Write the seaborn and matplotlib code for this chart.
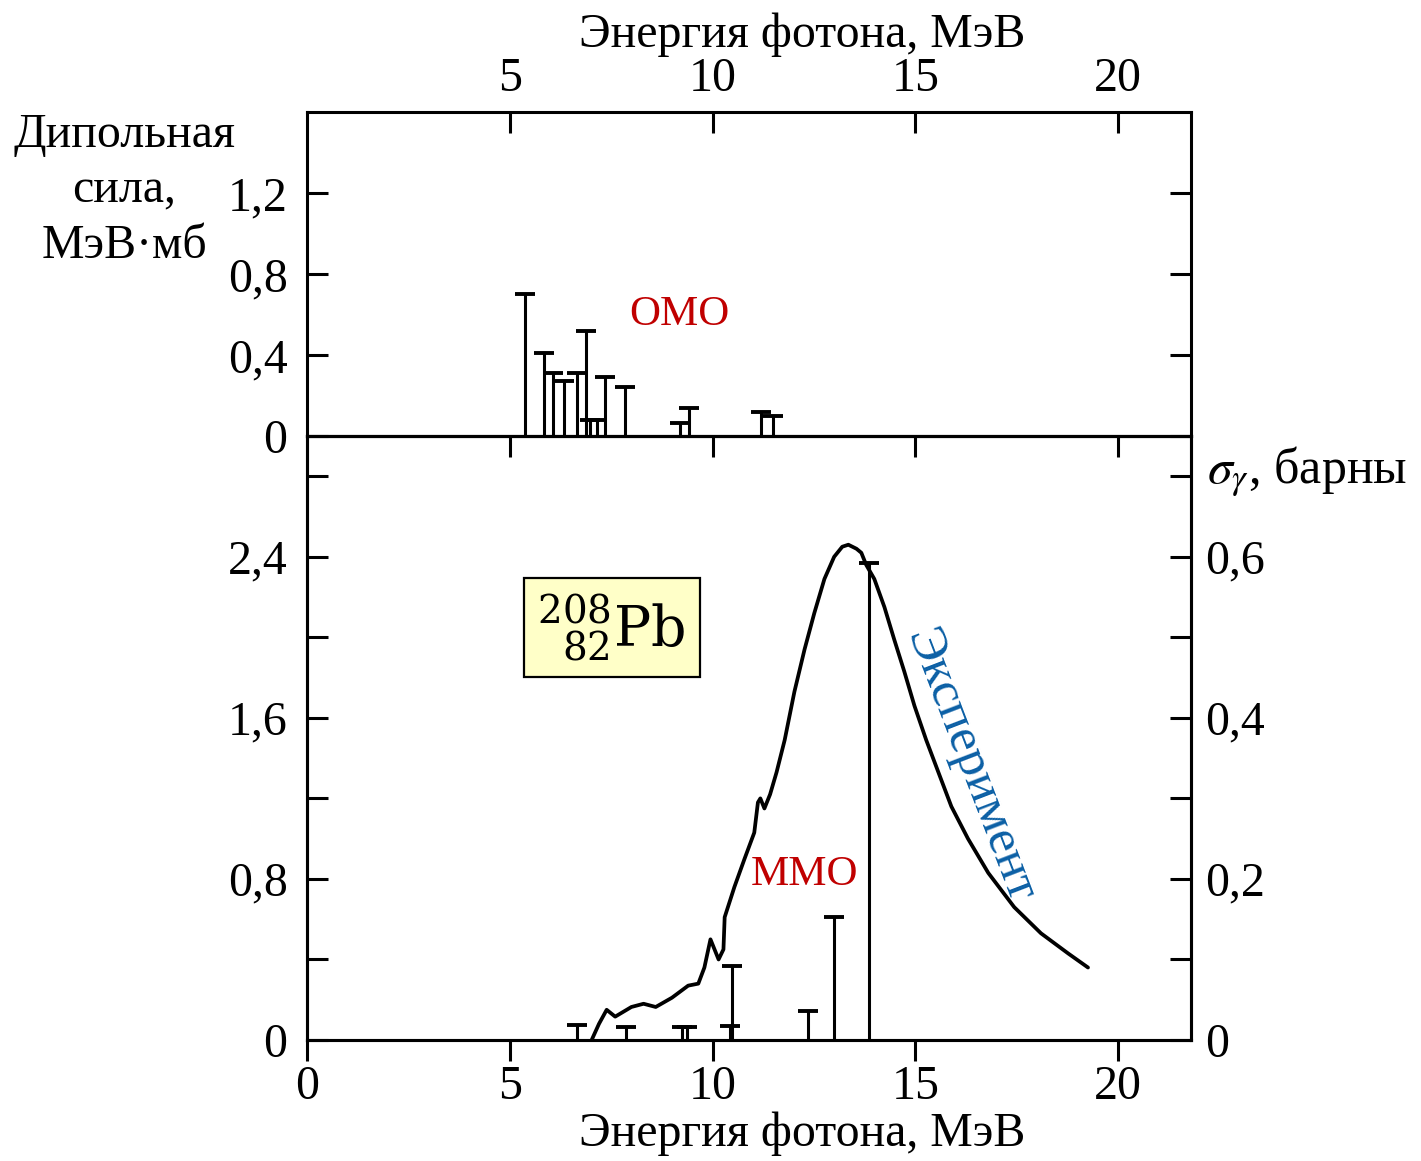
import numpy as np
import pandas as pd
import matplotlib
matplotlib.use("Agg")
import matplotlib.pyplot as plt
import seaborn as sns
from matplotlib.ticker import FixedLocator, FixedFormatter

# ---------------- data ----------------
# Top panel: OMO dipole strengths (MeV*mb)
omo_energy = [5.37, 5.84, 6.06, 6.35, 6.67, 6.87, 6.97, 7.14, 7.34, 7.83, 9.19, 9.43, 11.20, 11.48]
omo_strength = [0.70, 0.41, 0.31, 0.27, 0.31, 0.52, 0.08, 0.08, 0.29, 0.24, 0.065, 0.14, 0.12, 0.10]

# Bottom panel: MMO dipole strengths (MeV*mb)
mmo_energy = [6.67, 7.86, 9.25, 9.37, 10.42, 10.49, 12.36, 13.00, 13.87]
mmo_strength = [0.075, 0.065, 0.065, 0.065, 0.07, 0.37, 0.145, 0.61, 2.37]

# Experimental photo-absorption cross section (barns)
exp_energy = [7.02, 7.20, 7.39, 7.60, 8.00, 8.30, 8.60, 9.00, 9.40, 9.65, 9.80, 9.95,
              10.15, 10.27, 10.30, 10.54, 10.79, 11.03, 11.12, 11.18, 11.28, 11.42,
              11.58, 11.78, 12.02, 12.27, 12.51, 12.76, 13.00, 13.20, 13.35, 13.55,
              13.67, 13.79, 13.99, 14.24, 14.48, 14.73, 14.98, 15.27, 15.57, 15.89,
              16.30, 16.80, 17.44, 18.10, 18.77, 19.26]
exp_sigma = [0.0, 0.02, 0.0375, 0.029, 0.041, 0.045, 0.041, 0.0525, 0.0675, 0.07, 0.09, 0.125,
             0.10, 0.1125, 0.1525, 0.19, 0.225, 0.2575, 0.295, 0.30, 0.2875, 0.305,
             0.3325, 0.3725, 0.4325, 0.485, 0.53, 0.5725, 0.60, 0.6125, 0.615, 0.61,
             0.605, 0.59, 0.5725, 0.5375, 0.4975, 0.4575, 0.415, 0.3725, 0.3325, 0.29,
             0.25, 0.2075, 0.165, 0.1325, 0.1075, 0.09]

top_yticks = [0, 0.4, 0.8, 1.2]
top_ylabels = ["0", "0,4", "0,8", "1,2"]
bot_yticks = [0, 0.8, 1.6, 2.4]
bot_ylabels = ["0", "0,8", "1,6", "2,4"]
bot_yminor = [0.4, 1.2, 2.0, 2.8]
right_yticks = [0, 0.2, 0.4, 0.6]
right_ylabels = ["0", "0,2", "0,4", "0,6"]
right_yminor = [0.1, 0.3, 0.5, 0.7]
x_ticks_top = [5, 10, 15, 20]
x_ticks_bot = [0, 5, 10, 15, 20]
left_label_lines = ["Дипольная", "сила,", "МэВ·мб"]

# ---------------- style ----------------
sns.set_theme(style="ticks")
plt.rcParams["font.family"] = ["Liberation Serif", "DejaVu Serif"]
plt.rcParams["mathtext.fontset"] = "stix"
for k in ("text.color", "axes.labelcolor", "xtick.color", "ytick.color", "axes.edgecolor"):
    plt.rcParams[k] = "black"

FS = 34.5
LW = 2.2
RED = "#c00000"
BLUE = "#0b5fa5"

fig = plt.figure(figsize=(14.21, 11.61), dpi=100)
L, R = 307 / 1421, 1191 / 1421
ax_top = fig.add_axes([L, 1 - 436 / 1161, R - L, (436 - 112) / 1161])
ax_bot = fig.add_axes([L, 1 - 1040 / 1161, R - L, (1040 - 436) / 1161])
ax_r = ax_bot.twinx()

for a in (ax_top, ax_bot, ax_r):
    a.set_facecolor("none")
    for s in a.spines.values():
        s.set_linewidth(LW)
        s.set_color("black")
        s.set_visible(True)

XMAX = 21.8

# ---- top panel ----
ax_top.vlines(omo_energy, 0, omo_strength, color="black", lw=LW)
ax_top.plot(omo_energy, omo_strength, ls="none", marker="_", ms=15, mew=LW + 0.6, color="black")
ax_top.set_xlim(0, XMAX)
ax_top.set_ylim(0, 1.6)
ax_top.xaxis.set_major_locator(FixedLocator(x_ticks_top))
ax_top.tick_params(axis="x", which="both", top=True, bottom=False, labeltop=True,
                   labelbottom=False, direction="in", length=15, width=LW, pad=8,
                   labelsize=FS)
ax_top.yaxis.set_major_locator(FixedLocator(top_yticks))
ax_top.yaxis.set_major_formatter(FixedFormatter(top_ylabels))
ax_top.tick_params(axis="y", which="both", left=True, right=True, labelleft=True,
                   labelright=False, direction="in", length=15, width=LW, pad=14,
                   labelsize=FS)
ax_top.text(9.19, 0.60, "ОМО", color=RED, fontsize=31, ha="center", va="center")

# ---- bottom panel ----
ax_bot.vlines(mmo_energy, 0, mmo_strength, color="black", lw=LW)
ax_bot.plot(mmo_energy, mmo_strength, ls="none", marker="_", ms=15, mew=LW + 0.6, color="black")
ax_bot.set_xlim(0, XMAX)
ax_bot.set_ylim(0, 3.0)
ax_bot.xaxis.set_major_locator(FixedLocator(x_ticks_bot))
ax_bot.tick_params(axis="x", which="both", top=False, bottom=True, labelbottom=True,
                   direction="out", length=15, width=LW, pad=3, labelsize=FS)
sec = ax_bot.secondary_xaxis("top")
sec.xaxis.set_major_locator(FixedLocator(x_ticks_top))
sec.tick_params(axis="x", direction="in", length=15, width=LW, labeltop=False)
sec.spines["top"].set_linewidth(LW)
ax_bot.yaxis.set_major_locator(FixedLocator(bot_yticks))
ax_bot.yaxis.set_major_formatter(FixedFormatter(bot_ylabels))
ax_bot.yaxis.set_minor_locator(FixedLocator(bot_yminor))
ax_bot.tick_params(axis="y", which="both", left=True, right=False, direction="in",
                   length=15, width=LW, pad=14, labelsize=FS)
ax_bot.text(12.27, 0.82, "ММО", color=RED, fontsize=31, ha="center", va="center")
ax_bot.text(7.51, 2.05, r"$^{208}_{\ \ 82}\mathrm{Pb}$", fontsize=40, ha="center", va="center",
            math_fontfamily="dejavuserif",
            bbox=dict(boxstyle="square,pad=0.25", fc="#ffffc8", ec="black", lw=1.6))

# ---- experimental curve on right axis ----
df = pd.DataFrame({"E": exp_energy, "sigma": exp_sigma})
sns.lineplot(data=df, x="E", y="sigma", ax=ax_r, color="black", lw=LW + 0.5, sort=False,
             solid_capstyle="round", solid_joinstyle="round")
ax_r.set_xlim(0, XMAX)
ax_r.set_ylim(0, 0.75)
ax_r.set_xlabel("")
ax_r.set_ylabel("")
ax_r.yaxis.set_major_locator(FixedLocator(right_yticks))
ax_r.yaxis.set_major_formatter(FixedFormatter(right_ylabels))
ax_r.yaxis.set_minor_locator(FixedLocator(right_yminor))
ax_r.tick_params(axis="y", which="both", left=False, right=True, labelright=True,
                 labelleft=False, direction="in", length=15, width=LW, pad=10, labelsize=FS)
ax_r.tick_params(axis="x", which="both", top=False, bottom=False, labelbottom=False)
ax_r.text(16.35, 0.34, "Эксперимент", color=BLUE, fontsize=37, rotation=-69,
          ha="center", va="center", rotation_mode="anchor")

# ---- figure-level labels ----
fig.text(802 / 1421, 1 - 35 / 1161, "Энергия фотона, МэВ", fontsize=FS, ha="center", va="center")
fig.text(802 / 1421, 1 - 1134 / 1161, "Энергия фотона, МэВ", fontsize=FS, ha="center", va="center")
for line, ypix in zip(left_label_lines, [135, 190, 246]):
    fig.text(124 / 1421, 1 - ypix / 1161, line, fontsize=FS, ha="center", va="center")
fig.text(1207 / 1421, 1 - 472 / 1161, r"$\sigma_\gamma$, барны", fontsize=36,
         ha="left", va="center")

fig.savefig("out.png", dpi=100, facecolor="white")
